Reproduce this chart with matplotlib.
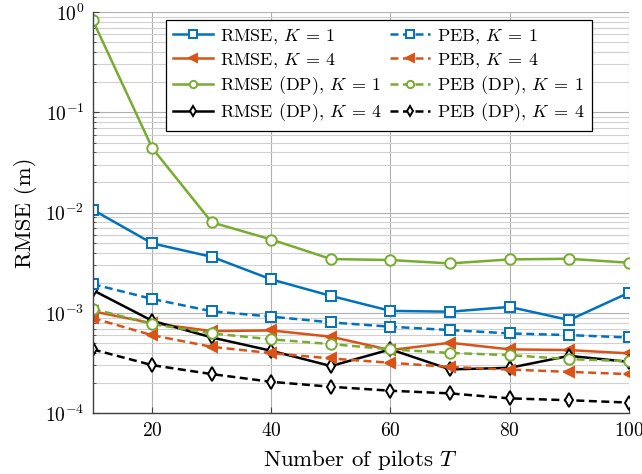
import matplotlib
matplotlib.use("Agg")
import matplotlib.pyplot as plt
import numpy as np

plt.rcParams['font.family'] = ['cmr10', 'DejaVu Serif']
plt.rcParams['mathtext.fontset'] = 'cm'
plt.rcParams['axes.formatter.use_mathtext'] = True

# number of pilots
pilots = [10, 20, 30, 40, 50, 60, 70, 80, 90, 100]

rmse_k1 = [1.07e-2, 4.94e-3, 3.63e-3, 2.16e-3, 1.48e-3, 1.05e-3, 1.03e-3, 1.15e-3, 8.5e-4, 1.59e-3]
rmse_k4 = [1.04e-3, 7.9e-4, 6.6e-4, 6.7e-4, 5.8e-4, 4.27e-4, 5.05e-4, 4.34e-4, 4.27e-4, 3.96e-4]
rmse_dp_k1 = [0.83, 4.4e-2, 8.0e-3, 5.4e-3, 3.45e-3, 3.37e-3, 3.12e-3, 3.42e-3, 3.47e-3, 3.17e-3]
rmse_dp_k4 = [1.69e-3, 8.36e-4, 5.7e-4, 4.2e-4, 2.96e-4, 4.34e-4, 2.74e-4, 2.84e-4, 3.74e-4, 3.26e-4]
peb_k1 = [1.94e-3, 1.38e-3, 1.04e-3, 9.2e-4, 8.06e-4, 7.3e-4, 6.76e-4, 6.26e-4, 6.02e-4, 5.7e-4]
peb_k4 = [8.9e-4, 6.0e-4, 4.6e-4, 3.98e-4, 3.52e-4, 3.19e-4, 2.9e-4, 2.73e-4, 2.59e-4, 2.46e-4]
peb_dp_k1 = [1.1e-3, 7.76e-4, 6.26e-4, 5.46e-4, 4.9e-4, 4.34e-4, 4.0e-4, 3.8e-4, 3.47e-4, 3.31e-4]
peb_dp_k4 = [4.34e-4, 3.02e-4, 2.46e-4, 2.06e-4, 1.84e-4, 1.68e-4, 1.58e-4, 1.41e-4, 1.35e-4, 1.28e-4]

blue = '#0072BD'
orange = '#D95319'
green = '#77AC30'
dash = (0, (3.2, 1.8))

fig = plt.figure(figsize=(6.42, 4.74), dpi=100)
ax = fig.add_axes([0.1444, 0.128, 0.8349, 0.8467])

lw = 1.8
ms = 7.5
mew = 1.4

ax.plot(pilots, rmse_k1, '-', color=blue, lw=lw, marker='s', ms=ms, mfc='white', mew=mew, label=r'RMSE, $K\:=\:1$')
ax.plot(pilots, rmse_k4, '-', color=orange, lw=lw, marker='<', ms=ms, mfc=orange, mew=mew, label=r'RMSE, $K\:=\:4$')
ax.plot(pilots, rmse_dp_k1, '-', color=green, lw=lw, marker='o', ms=ms, mfc='white', mew=mew, label=r'RMSE (DP), $K\:=\:1$')
ax.plot(pilots, rmse_dp_k4, '-', color='black', lw=lw, marker='d', ms=ms, mfc='white', mew=mew, label=r'RMSE (DP), $K\:=\:4$')
ax.plot(pilots, peb_k1, linestyle=dash, color=blue, lw=lw, marker='s', ms=ms, mfc='white', mew=mew, label=r'PEB, $K\:=\:1$')
ax.plot(pilots, peb_k4, linestyle=dash, color=orange, lw=lw, marker='<', ms=ms, mfc=orange, mew=mew, label=r'PEB, $K\:=\:4$')
ax.plot(pilots, peb_dp_k1, linestyle=dash, color=green, lw=lw, marker='o', ms=ms, mfc='white', mew=mew, label=r'PEB (DP), $K\:=\:1$')
ax.plot(pilots, peb_dp_k4, linestyle=dash, color='black', lw=lw, marker='d', ms=ms, mfc='white', mew=mew, label=r'PEB (DP), $K\:=\:4$')

ax.set_yscale('log')
ax.set_xlim(10, 100)
ax.set_ylim(1e-4, 1)
ax.set_xticks([20, 40, 60, 80, 100])
ax.set_yticks([1e-4, 1e-3, 1e-2, 1e-1, 1])

ax.grid(True, which='major', color='#b0b0b0', lw=0.8)
ax.grid(True, which='minor', axis='y', color='#d0d0d0', lw=0.8)
ax.set_axisbelow(True)
for s in ['top', 'right']:
    ax.spines[s].set_visible(False)
for s in ['left', 'bottom']:
    ax.spines[s].set_color('#404040')
    ax.spines[s].set_linewidth(1.0)
ax.tick_params(which='both', direction='in', labelsize=14, colors='#404040', labelcolor='black', pad=6)
ax.tick_params(which='major', length=4)
ax.tick_params(which='minor', length=2)

ax.set_xlabel('Number of pilots $T$', fontsize=16.5, labelpad=6)
ax.set_ylabel('RMSE (m)', fontsize=16.5, labelpad=6)

leg = ax.legend(ncol=2, loc='upper right', bbox_to_anchor=(0.9315, 0.98), fontsize=13,
                frameon=True, fancybox=False, edgecolor='black', framealpha=1,
                handlelength=2.2, labelspacing=0.25, columnspacing=0.4, handletextpad=0.4,
                markerscale=0.7, borderpad=0.4, borderaxespad=0)
leg.get_frame().set_linewidth(0.9)

fig.savefig('out.png', dpi=100)
